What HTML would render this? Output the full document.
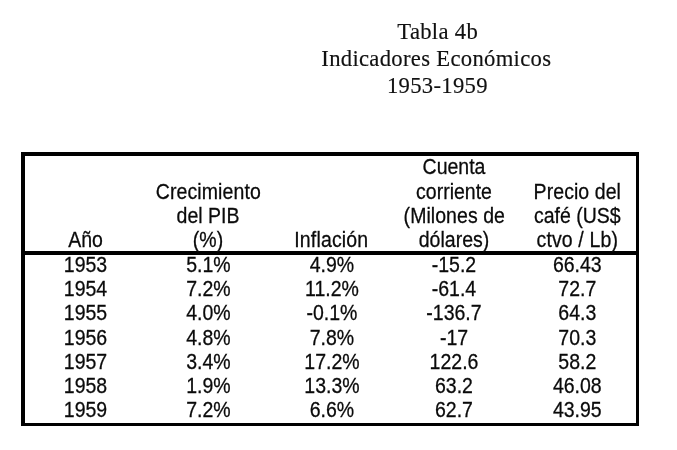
<!DOCTYPE html>
<html lang="es">
<head>
<meta charset="utf-8">
<title>Tabla 4b - Indicadores Económicos 1953-1959</title>
<style>
html,body{margin:0;padding:0;background:#fff;}
body{width:677px;height:450px;position:relative;overflow:hidden;color:#000;}
.title{position:absolute;left:236px;width:400px;text-align:center;font-family:"Liberation Serif","Times New Roman",serif;font-size:22.67px;letter-spacing:0.3px;line-height:27px;white-space:nowrap;color:#111;-webkit-text-stroke:0.15px #111;}
.b{position:absolute;background:#000;}
.t{position:absolute;width:160px;text-align:center;font-family:"Liberation Sans",Arial,sans-serif;font-size:19.5px;line-height:24px;height:24px;white-space:nowrap;color:#0a0a0a;transform:scaleY(1.09);transform-origin:50% 18.76px;-webkit-text-stroke:0.25px #0a0a0a;}
</style>
</head>
<body>
<div class="title" style="top:18px;left:237.7px">Tabla 4b</div>
<div class="title" style="top:45px;left:236.3px">Indicadores Económicos</div>
<div class="title" style="top:72px;left:237.4px">1953-1959</div>
<div class="b" style="left:21px;top:152px;width:618px;height:4px"></div>
<div class="b" style="left:21px;top:152px;width:4px;height:274px"></div>
<div class="b" style="left:636px;top:152px;width:3px;height:274px"></div>
<div class="b" style="left:21px;top:423px;width:618px;height:3px"></div>
<div class="b" style="left:21px;top:251px;width:618px;height:4px"></div>

<div class="t" style="left:5.50px;top:228.24px">Año</div>
<div class="t" style="left:5.50px;top:253.04px">1953</div>
<div class="t" style="left:5.50px;top:277.22px">1954</div>
<div class="t" style="left:5.50px;top:301.40px">1955</div>
<div class="t" style="left:5.50px;top:325.58px">1956</div>
<div class="t" style="left:5.50px;top:349.76px">1957</div>
<div class="t" style="left:5.50px;top:373.94px">1958</div>
<div class="t" style="left:5.50px;top:398.12px">1959</div>
<div class="t" style="left:128.30px;top:180.24px;letter-spacing:0.1px">Crecimiento</div>
<div class="t" style="left:128.00px;top:204.24px">del PIB</div>
<div class="t" style="left:128.00px;top:228.24px">(%)</div>
<div class="t" style="left:128.50px;top:253.04px">5.1%</div>
<div class="t" style="left:128.50px;top:277.22px">7.2%</div>
<div class="t" style="left:128.50px;top:301.40px">4.0%</div>
<div class="t" style="left:128.50px;top:325.58px">4.8%</div>
<div class="t" style="left:128.50px;top:349.76px">3.4%</div>
<div class="t" style="left:128.50px;top:373.94px">1.9%</div>
<div class="t" style="left:128.50px;top:398.12px">7.2%</div>
<div class="t" style="left:251.30px;top:228.24px;letter-spacing:0.15px">Inflación</div>
<div class="t" style="left:252.00px;top:253.04px">4.9%</div>
<div class="t" style="left:252.00px;top:277.22px">11.2%</div>
<div class="t" style="left:252.00px;top:301.40px">-0.1%</div>
<div class="t" style="left:252.00px;top:325.58px">7.8%</div>
<div class="t" style="left:252.00px;top:349.76px">17.2%</div>
<div class="t" style="left:252.00px;top:373.94px">13.3%</div>
<div class="t" style="left:252.00px;top:398.12px">6.6%</div>
<div class="t" style="left:374.00px;top:155.24px">Cuenta</div>
<div class="t" style="left:374.00px;top:180.24px">corriente</div>
<div class="t" style="left:374.30px;top:204.24px;letter-spacing:0.05px">(Milones de</div>
<div class="t" style="left:374.00px;top:228.24px">dólares)</div>
<div class="t" style="left:374.00px;top:253.04px">-15.2</div>
<div class="t" style="left:374.00px;top:277.22px">-61.4</div>
<div class="t" style="left:374.00px;top:301.40px">-136.7</div>
<div class="t" style="left:374.00px;top:325.58px">-17</div>
<div class="t" style="left:374.00px;top:349.76px">122.6</div>
<div class="t" style="left:374.00px;top:373.94px">63.2</div>
<div class="t" style="left:374.00px;top:398.12px">62.7</div>
<div class="t" style="left:497.30px;top:180.24px;letter-spacing:0.07px">Precio del</div>
<div class="t" style="left:497.30px;top:204.24px">café (US$</div>
<div class="t" style="left:497.30px;top:228.24px;letter-spacing:0.12px">ctvo / Lb)</div>
<div class="t" style="left:497.30px;top:253.04px">66.43</div>
<div class="t" style="left:497.30px;top:277.22px">72.7</div>
<div class="t" style="left:497.30px;top:301.40px">64.3</div>
<div class="t" style="left:497.30px;top:325.58px">70.3</div>
<div class="t" style="left:497.30px;top:349.76px">58.2</div>
<div class="t" style="left:497.30px;top:373.94px">46.08</div>
<div class="t" style="left:497.30px;top:398.12px">43.95</div>
</body>
</html>
